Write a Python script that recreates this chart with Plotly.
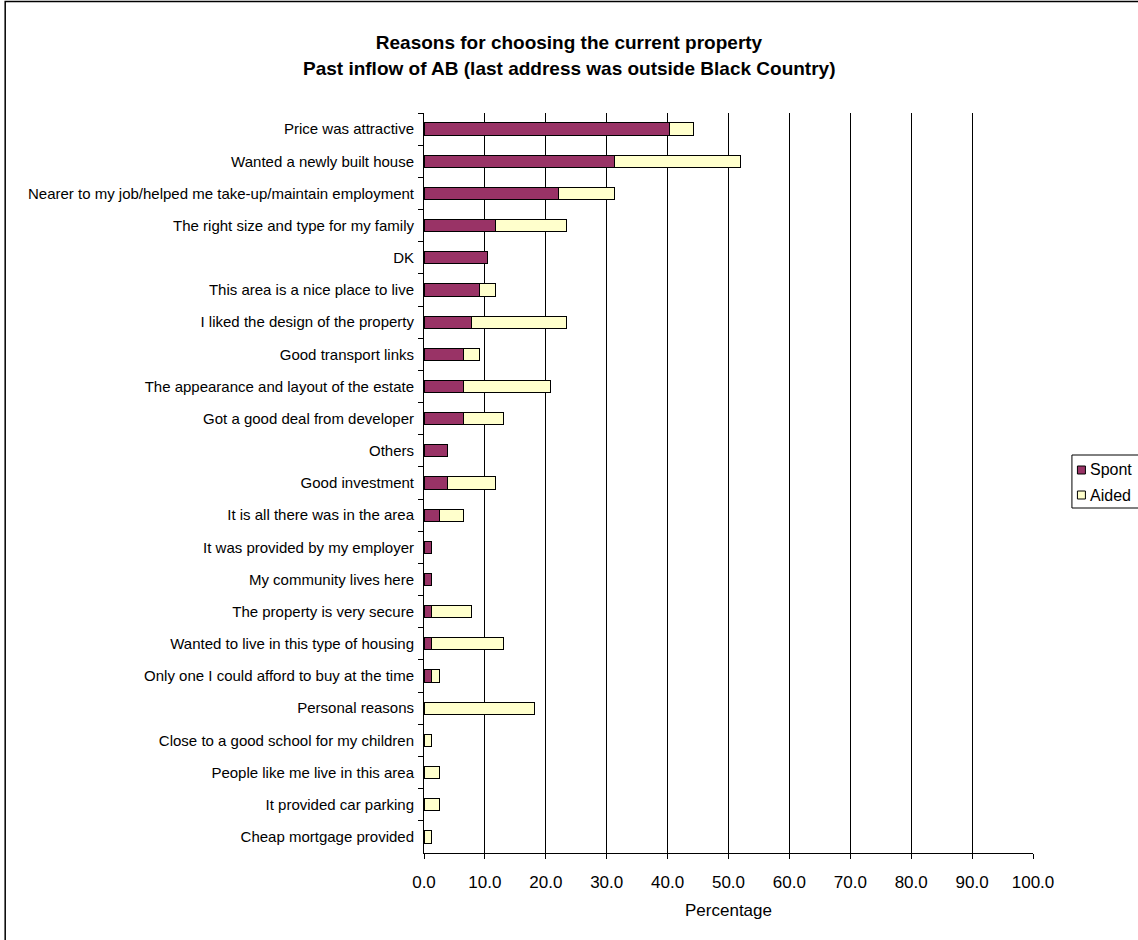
import plotly.graph_objects as go

categories = [
    "Price was attractive",
    "Wanted a newly built house",
    "Nearer to my job/helped me take-up/maintain employment",
    "The right size and type for my family",
    "DK",
    "This area is a nice place to live",
    "I liked the design of the property",
    "Good transport links",
    "The appearance and layout of the estate",
    "Got a good deal from developer",
    "Others",
    "Good investment",
    "It is all there was in the area",
    "It was provided by my employer",
    "My community lives here",
    "The property is very secure",
    "Wanted to live in this type of housing",
    "Only one I could afford to buy at the time",
    "Personal reasons",
    "Close to a good school for my children",
    "People like me live in this area",
    "It provided car parking",
    "Cheap mortgage provided",
]
spont = [40.3, 31.2, 22.1, 11.7, 10.4, 9.1, 7.8, 6.5, 6.5, 6.5, 3.9, 3.9, 2.6,
         1.3, 1.3, 1.3, 1.3, 1.3, 0.0, 0.0, 0.0, 0.0, 0.0]
aided = [3.9, 20.8, 9.1, 11.7, 0.0, 2.6, 15.6, 2.6, 14.3, 6.5, 0.0, 7.8, 3.9,
         0.0, 0.0, 6.5, 11.7, 1.3, 18.2, 1.3, 2.6, 2.6, 1.3]
x_ticks = [0, 10, 20, 30, 40, 50, 60, 70, 80, 90, 100]
series_names = ["Spont", "Aided"]
series_colors = ["#993366", "#FFFFCC"]

W, H = 1138, 940
L, R, T, B = 423.5, 1033.5, 113, 853
pw, ph = R - L, B - T
FONT = "Liberation Sans, Arial, Helvetica, sans-serif"


def px(x):
    return (x - L) / pw


def py(y):
    return (B - y) / ph


fig = go.Figure()
for name, vals, col in zip(series_names, [spont, aided], series_colors):
    fig.add_trace(go.Bar(
        y=categories, x=vals, name=name, orientation="h",
        marker=dict(color=col, line=dict(color="#000000", width=1)),
        showlegend=False,
    ))

# manual legend (box, swatches, labels) to match the compact original legend
shapes = [
    dict(type="rect", xref="paper", yref="paper",
         x0=px(4), x1=px(W + 10), y0=py(H + 10), y1=py(1.5),
         line=dict(color="#000000", width=1.5), fillcolor="rgba(0,0,0,0)",
         layer="below"),
    dict(type="rect", xref="paper", yref="paper",
         x0=px(1072.5), x1=px(W + 10), y0=py(508), y1=py(455),
         line=dict(color="#000000", width=1), fillcolor="white"),
]
annotations = [dict(
    text="<b>Past inflow of AB (last address was outside Black Country)</b>",
    xref="paper", yref="paper", x=px(W / 2), y=py(68),
    xanchor="center", yanchor="middle", showarrow=False,
    font=dict(size=19, color="#000000"),
)]
for i, (name, col) in enumerate(zip(series_names, series_colors)):
    cy = 470 + 25 * i
    shapes.append(dict(type="rect", xref="paper", yref="paper",
                       x0=px(1078), x1=px(1086), y0=py(cy + 4), y1=py(cy - 4),
                       line=dict(color="#000000", width=1), fillcolor=col))
    annotations.append(dict(text=name, xref="paper", yref="paper",
                            x=px(1088.5), y=py(cy), xanchor="left", yanchor="middle",
                            showarrow=False, font=dict(size=16, color="#000000")))

fig.update_layout(
    width=W, height=H,
    margin=dict(l=L, r=W - R, t=T, b=H - B, pad=0, autoexpand=False),
    paper_bgcolor="white", plot_bgcolor="white",
    barmode="stack", bargap=0.62, showlegend=False,
    font=dict(family=FONT, color="#000000", size=15),
    title=dict(
        text="<b>Reasons for choosing the current property</b>",
        x=0.5, xref="container", xanchor="center",
        y=1 - 42 / H, yref="container", yanchor="middle",
        font=dict(size=19, color="#000000"),
    ),
    xaxis=dict(
        range=[0, 100], tickvals=x_ticks, ticktext=[f"{v:.1f}" for v in x_ticks],
        showgrid=True, gridcolor="#000000", gridwidth=1,
        showline=True, linecolor="#000000", linewidth=1,
        ticks="outside", ticklen=5, tickcolor="#000000",
        tickfont=dict(size=17), zeroline=False, ticklabelstandoff=9,
        title=dict(text="Percentage", font=dict(size=17), standoff=12),
    ),
    yaxis=dict(
        categoryorder="array", categoryarray=categories, autorange="reversed",
        showgrid=False, showline=True, linecolor="#000000", linewidth=1,
        ticks="outside", ticklen=5, tickcolor="#000000", tickson="boundaries",
        tickfont=dict(size=15), ticklabelstandoff=6,
    ),
    annotations=annotations,
    shapes=shapes,
)

fig.write_html("out.html")
